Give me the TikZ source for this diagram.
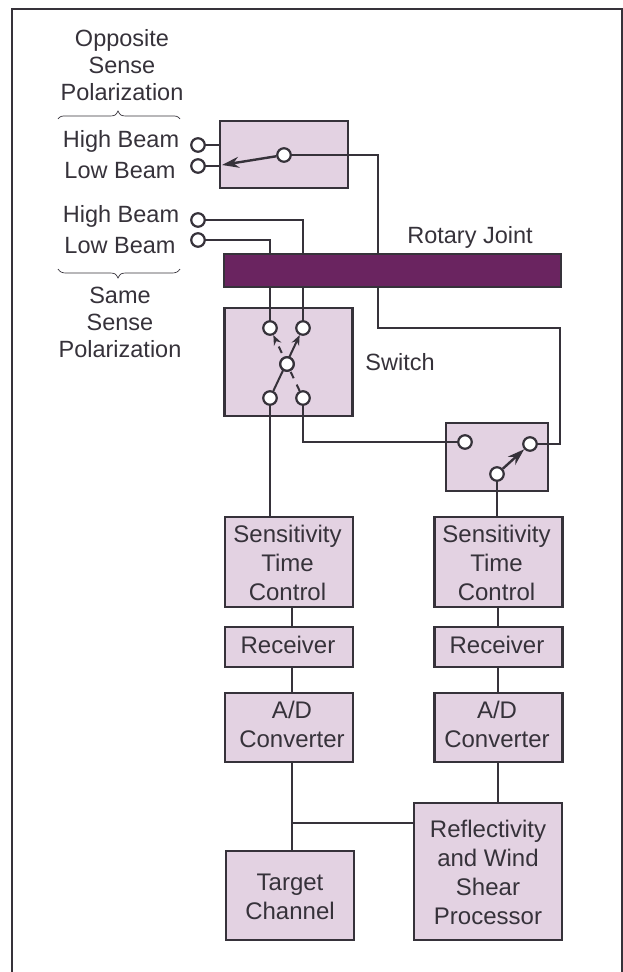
\documentclass[tikz,border=0pt]{standalone}
\usepackage{fontspec}
\setmainfont{Liberation Sans}
\usetikzlibrary{arrows.meta}
\pgfdeclarelayer{boxes}
\pgfdeclarelayer{wires}
\pgfsetlayers{boxes,wires,main}
\definecolor{ink}{HTML}{36323A}
\definecolor{pale}{HTML}{E3D2E2}
\definecolor{plum}{HTML}{6A2460}
\tikzset{
  frameline/.style={draw=ink,line width=2pt},
  box/.style={draw=ink,fill=pale,line width=2.2pt,inner sep=0pt,minimum width=#1},
  box/.default=128pt,
  boxtext/.style={inner sep=0pt,align=center,text=ink,font=\fontsize{24}{29}\selectfont},
  term/.style={circle,draw=ink,fill=white,line width=2.2pt,minimum size=13.5pt,inner sep=0pt},
  wire/.style={draw=ink,line width=2pt},
  arm/.style={draw=ink,line width=2.4pt},
  label/.style={align=center,text=ink,font=\fontsize{23.5}{27}\selectfont,inner sep=0pt},
  curly/.style={draw=ink,line width=0.7pt},
  head/.style={-{Stealth[length=17pt,width=11pt]}},
  smallhead/.style={-{Stealth[length=10pt,width=8pt]}}
}
\begin{document}
\begin{tikzpicture}[x=1pt,y=-1pt]
\useasboundingbox (0,0) rectangle (623,972);
\draw[frameline] (12,972) -- (12,9) -- (622,9) -- (622,972);
% boxes
\begin{pgfonlayer}{boxes}
\node[box,minimum height=67pt] (top) at (284,154.5) {};
\node[box,minimum height=108pt] (sw) at (288.5,362) {};
\node[box=102pt,minimum height=68pt] (rsw) at (497,457) {};
\node[box,minimum height=90pt] (stcl) at (289,562) {};
\node[box,minimum height=40pt] (recl) at (289,647) {};
\node[box,minimum height=69pt] (adl) at (289,727.5) {};
\node[box,minimum height=89pt] (tgt) at (290,895.5) {};
\node[box,minimum height=90pt] (stcr) at (498.5,562) {};
\node[box,minimum height=40pt] (recr) at (498.5,647) {};
\node[box,minimum height=69pt] (adr) at (498.5,727.5) {};
\node[box=148pt,minimum height=137pt] (proc) at (488,871.5) {};
\end{pgfonlayer}
\node[boxtext] (stclt) at (287.5,563) {Sensitivity\\Time\\Control};
\node[boxtext] (reclt) at (288,645) {Receiver};
\node[boxtext] (adlt) at (292,724.5) {A/D\\Converter};
\node[boxtext] (tgtt) at (290,896.5) {Target\\Channel};
\node[boxtext] (stcrt) at (496.5,563) {Sensitivity\\Time\\Control};
\node[boxtext] (recrt) at (497,645) {Receiver};
\node[boxtext] (adrt) at (497,724.5) {A/D\\Converter};
\node[boxtext] (proct) at (488,872) {Reflectivity\\and Wind\\Shear\\Processor};
\node[draw=ink,fill=plum,line width=2pt,minimum width=337pt,minimum height=33pt,inner sep=0pt] (rot) at (392.5,270.5) {};
% terminals
\node[term] (ohi) at (198,145) {};
\node[term] (olo) at (198,166) {};
\node[term] (shi) at (198,220) {};
\node[term] (slo) at (198,240) {};
\node[term] (tc) at (284,155) {};
\node[term] (a1) at (270,328) {};
\node[term] (a2) at (303,328) {};
\node[term] (ac) at (287,364) {};
\node[term] (a3) at (270,398) {};
\node[term] (a4) at (303,398) {};
\node[term] (r1) at (465,442) {};
\node[term] (r2) at (530,444) {};
\node[term] (r3) at (497,474) {};
% labels
\node[label] (l1) at (122,65) {Opposite\\Sense\\Polarization};
\node[label] (l2) at (121,141) {High Beam};
\node[label] (l3) at (120,171) {Low Beam};
\node[label] (l4) at (121,216) {High Beam};
\node[label] (l5) at (120,246) {Low Beam};
\node[label] (l6) at (120,322) {Same\\Sense\\Polarization};
\node[label] (l7) at (470,237) {Rotary Joint};
\node[label] (l8) at (400,362) {Switch};
% braces
\draw[curly] (58,119) .. controls (60,116) and (62,116) .. (66,116) -- (110,116) .. controls (115,116) and (116,115) .. (118,111) .. controls (120,115) and (121,116) .. (126,116) -- (172,116) .. controls (176,116) and (178,116) .. (180,119);
\draw[curly] (58,269) .. controls (60,272) and (62,273) .. (66,273) -- (110,273) .. controls (115,273) and (116,274) .. (118,278) .. controls (120,274) and (121,273) .. (126,273) -- (172,273) .. controls (176,273) and (178,272) .. (180,269);
% wires
\coordinate (corner) at (378,328);
\coordinate (cornerb) at (560,328);
\coordinate (jct) at (292,823);
\begin{pgfonlayer}{wires}
\draw[wire] (ohi.center) -- (ohi -| top.west);
\draw[wire] (olo.center) -- (olo -| top.west);
\draw[wire] (tc.center) -| (corner) -| (cornerb) |- (r2.center);
\draw[wire] (shi.center) -| (a2.center);
\draw[wire] (slo.center) -| (a1.center);
\draw[wire] (a3.center) -- (a3 |- stcl.north);
\draw[wire] (a4.center) |- (r1.center);
\draw[wire] (r3.center) -- (r3 |- stcr.north);
\coordinate (lx) at (292,0);
\coordinate (rx) at (498,0);
\draw[wire] (lx |- stcl.south) -- (lx |- recl.north);
\draw[wire] (lx |- recl.south) -- (lx |- adl.north);
\draw[wire] (lx |- adl.south) -- (lx |- tgt.north);
\draw[wire] (rx |- stcr.south) -- (rx |- recr.north);
\draw[wire] (rx |- recr.south) -- (rx |- adr.north);
\draw[wire] (rx |- adr.south) -- (rx |- proc.north);
\draw[wire] (jct) -- (jct -| proc.west);
\end{pgfonlayer}
% switch arms
\draw[arm,head] (tc) -- (222,165);
\draw[wire,smallhead] (a3) -- (a2);
\draw[wire,smallhead,dash pattern=on 7pt off 7pt] (a4) -- (a1);
\draw[arm,head] (r3) -- (r2);
\node[term] at (ac) {};
\end{tikzpicture}
\end{document}
